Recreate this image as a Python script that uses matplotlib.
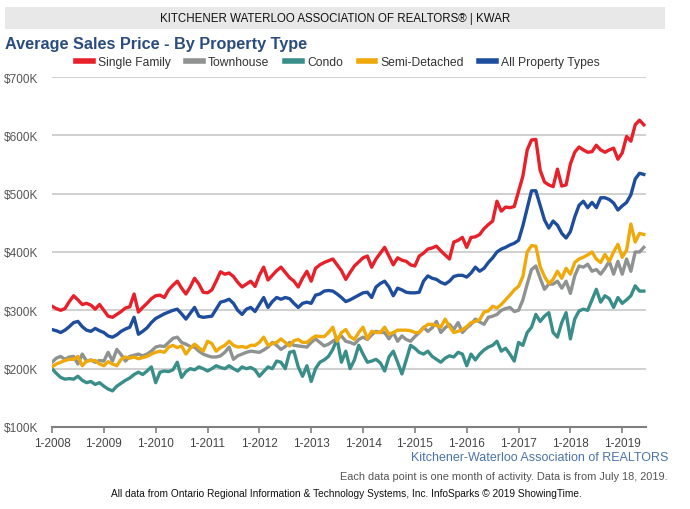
import matplotlib
matplotlib.use("Agg")
import matplotlib.pyplot as plt
from matplotlib.patches import Rectangle
from matplotlib.lines import Line2D

plt.rcParams['font.family'] = ['Liberation Sans', 'DejaVu Sans']

# monthly average sales price in $K, Jan 2008 .. Jun 2019
single_family = [
    307, 303, 300, 303, 315, 325, 318, 310, 312, 309, 302, 310,
    300, 290, 288, 293, 298, 304, 306, 328, 297, 305, 312, 320,
    325, 326, 322, 335, 343, 350, 338, 328, 340, 355, 345, 331,
    330, 335, 350, 366, 362, 364, 358, 348, 340, 345, 350, 341,
    360, 374, 352, 360, 368, 374, 365, 356, 350, 340, 355, 367,
    350, 372, 378, 382, 385, 388, 378, 368, 353, 365, 376, 383,
    390, 393, 374, 388, 398, 408, 393, 378, 390, 386, 384, 378,
    376, 393, 398, 405, 407, 410, 402, 395, 388, 417, 420, 425,
    408, 425, 426, 430, 440, 447, 453, 487, 470, 477, 476, 478,
    504, 530, 575, 592, 593, 540, 520, 515, 512, 542, 513, 515,
    551, 571, 580, 575, 571, 572, 583, 575, 571, 575, 578, 559,
    570, 598, 590, 618, 626, 618,
]
townhouse = [
    211, 218, 221, 216, 220, 221, 208, 225, 213, 215, 211, 214,
    213, 228, 213, 233, 224, 213, 221, 223, 225, 222, 225, 230,
    237, 239, 238, 245, 252, 254, 245, 242, 238, 237, 230, 225,
    222, 220, 220, 222, 228, 237, 216, 222, 225, 228, 230, 229,
    228, 232, 237, 245, 240, 233, 238, 245, 240, 239, 238, 237,
    245, 251, 245, 239, 242, 247, 252, 256, 247, 245, 242, 250,
    254, 250, 258, 264, 262, 262, 251, 262, 247, 256, 250, 247,
    255, 262, 271, 264, 270, 281, 262, 270, 276, 267, 279, 262,
    270, 276, 285, 280, 276, 288, 290, 293, 300, 303, 305, 298,
    300, 318, 345, 370, 376, 355, 336, 345, 345, 350, 338, 350,
    329, 359, 376, 374, 379, 367, 370, 362, 372, 384, 362, 384,
    362, 388, 367, 400, 400, 408,
]
condo = [
    200, 192, 185, 182, 183, 182, 187, 180, 176, 178, 173, 176,
    170, 165, 162, 170, 175, 180, 184, 190, 194, 190, 196, 203,
    176, 194, 196, 195, 198, 211, 185, 195, 200, 198, 203, 200,
    196, 200, 205, 202, 200, 205, 200, 196, 203, 200, 202, 198,
    187, 195, 203, 200, 213, 211, 200, 228, 230, 203, 187, 205,
    178, 200, 211, 215, 221, 233, 251, 211, 230, 200, 215, 240,
    225, 211, 213, 216, 210, 196, 220, 230, 211, 191, 215, 240,
    235, 228, 225, 230, 221, 216, 211, 218, 222, 220, 228, 225,
    205, 225, 215, 225, 232, 237, 240, 247, 230, 235, 225, 213,
    245, 240, 262, 271, 293, 281, 290, 296, 262, 254, 279, 296,
    251, 285, 299, 302, 300, 318, 336, 314, 325, 320, 305, 322,
    312, 318, 325, 342, 333, 333,
]
semi_detached = [
    203, 208, 211, 214, 216, 216, 221, 205, 213, 214, 214, 208,
    205, 212, 208, 205, 216, 220, 218, 220, 217, 219, 221, 225,
    228, 230, 228, 237, 240, 236, 239, 225, 235, 242, 236, 230,
    247, 243, 230, 236, 240, 247, 240, 237, 238, 236, 240, 240,
    245, 254, 240, 243, 245, 251, 245, 239, 248, 250, 245, 245,
    251, 256, 255, 255, 262, 271, 247, 262, 267, 255, 250, 262,
    271, 251, 264, 262, 262, 271, 259, 262, 266, 266, 266, 265,
    262, 262, 270, 276, 276, 274, 271, 285, 272, 262, 264, 267,
    272, 279, 281, 284, 297, 299, 307, 304, 310, 318, 326, 335,
    341, 358, 400, 411, 410, 375, 358, 346, 353, 367, 355, 372,
    362, 382, 388, 391, 395, 400, 388, 382, 396, 384, 400, 413,
    391, 403, 448, 417, 432, 430,
]
all_types = [
    267, 265, 262, 266, 272, 279, 281, 272, 266, 264, 269, 265,
    262, 256, 254, 258, 264, 268, 271, 288, 259, 264, 270, 279,
    286, 290, 294, 297, 300, 302, 294, 285, 295, 305, 290, 288,
    289, 290, 302, 314, 316, 319, 312, 300, 293, 302, 305, 298,
    310, 322, 305, 315, 322, 319, 322, 320, 312, 305, 312, 314,
    312, 326, 328, 333, 334, 333, 328, 322, 315, 318, 322, 326,
    330, 331, 322, 340, 346, 350, 340, 325, 338, 335, 331, 330,
    330, 331, 350, 359, 355, 353, 348, 345, 350, 358, 360, 360,
    357, 364, 374, 367, 372, 382, 390, 400, 405, 408, 412, 415,
    420, 445, 475, 505, 505, 480, 455, 441, 453, 446, 432, 424,
    435, 460, 480, 487, 476, 485, 476, 493, 493, 490, 484, 472,
    479, 485, 498, 525, 535, 533,
]

series_names = ["Single Family", "Townhouse", "Condo", "Semi-Detached", "All Property Types"]
series_colors = ["#e8202a", "#8e9291", "#3a8e89", "#f0a90a", "#1d4d9c"]
series_values = [single_family, townhouse, condo, semi_detached, all_types]

years = list(range(2008, 2020))
year_labels = ["1-%d" % y for y in years]
y_ticks = [100, 200, 300, 400, 500, 600, 700]

fig = plt.figure(figsize=(6.9, 5.1), dpi=100)

# header band
fig.patches.append(Rectangle((5 / 690, 1 - 30 / 510), 660 / 690, 22 / 510,
                             transform=fig.transFigure, facecolor="#e8e8e8",
                             edgecolor="none", zorder=0))
fig.text(335 / 690, 1 - 19 / 510, "KITCHENER WATERLOO ASSOCIATION OF REALTORS\u00ae | KWAR",
         ha="center", va="center", fontsize=8.3, color="#111111")
fig.text(5 / 690, 1 - 44 / 510, "Average Sales Price - By Property Type",
         ha="left", va="center", fontsize=11.7, fontweight="bold", color="#2b4c7e")

ax = fig.add_axes([52 / 690, 82 / 510, 594 / 690, 350 / 510])

months = list(range(len(single_family)))
for name, color, vals in zip(series_names, series_colors, series_values):
    ax.plot(months, vals, color=color, lw=2.4, solid_joinstyle="round", label=name)

ax.set_xlim(0, len(months) - 0.5)
ax.set_ylim(100, 700)
ax.set_yticks(y_ticks)
ax.set_yticklabels(["$%dK" % v for v in y_ticks])
ax.set_xticks([12 * i for i in range(len(years))])
ax.set_xticklabels(year_labels)

ax.grid(axis="y", color="#c8c8c8", lw=1.2)
ax.set_axisbelow(True)
for s in ["top", "right", "left"]:
    ax.spines[s].set_visible(False)
ax.spines["bottom"].set_color("#808080")
ax.spines["bottom"].set_linewidth(1.5)
ax.tick_params(axis="y", length=0, labelsize=8.5, labelcolor="#555555", pad=10)
ax.tick_params(axis="x", length=4, width=1.2, color="#808080", labelsize=8.5,
               labelcolor="#444444", pad=3)

handles = [Line2D([0], [0], color=c, lw=4) for c in series_colors]
fig.legend(handles, series_names, loc="center", bbox_to_anchor=(338 / 690, 1 - 63 / 510),
           ncol=5, frameon=False, fontsize=8.7, handlelength=1.4, handletextpad=0.4,
           columnspacing=1.3, labelcolor="#333333")

fig.text(668 / 690, 1 - 458 / 510, "Kitchener-Waterloo Association of REALTORS",
         ha="right", va="center", fontsize=9.0, color="#4a73a8")
fig.text(668 / 690, 1 - 477 / 510,
         "Each data point is one month of activity. Data is from July 18, 2019.",
         ha="right", va="center", fontsize=7.9, color="#555555")
fig.text(346 / 690, 1 - 494 / 510,
         "All data from Ontario Regional Information & Technology Systems, Inc. InfoSparks \u00a9 2019 ShowingTime.",
         ha="center", va="center", fontsize=7.3, color="#111111")

fig.savefig("out.png", dpi=100)
